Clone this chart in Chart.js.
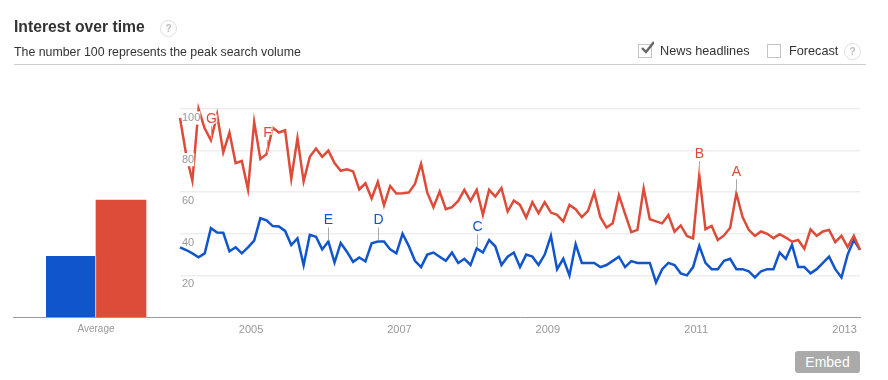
<!DOCTYPE html>
<html>
<head>
<meta charset="utf-8">
<title>Interest over time</title>
<script src="https://cdn.jsdelivr.net/npm/chart.js"></script>
<style>
  html, body { margin: 0; padding: 0; background: #fff; }
  #page { position: relative; width: 888px; height: 380px; overflow: hidden; font-family: "Liberation Sans", Arial, sans-serif; color: #333; }
  #page > * { position: absolute; }
  canvas { position: absolute; top: 0; }
  #title { left: 14px; top: 17px; font-size: 15.7px; font-weight: bold; line-height: 20px; }
  #sub { left: 14px; top: 44px; font-size: 12.35px; line-height: 16px; }
  #rule { left: 14px; top: 64px; width: 852px; height: 1px; background: #ccc; }
  .help { width: 15px; height: 15px; border: 1px solid #ddd; border-radius: 50%; font-size: 10px; font-weight: bold; line-height: 15px; text-align: center; color: #bbb; box-sizing: content-box; }
  .box { width: 12px; height: 12px; border: 1px solid #c4c4c4; top: 44px; }
  .lbl { top: 43px; font-size: 12.7px; line-height: 16px; }
  #tick { left: 640px; top: 41px; width: 14px; height: 14px; }
  #embed { left: 795px; top: 351px; width: 65px; height: 22px; background: #aaa; border-radius: 3px; color: #fff; font-size: 14px; line-height: 22px; text-align: center; }
</style>
</head>
<body>
<div id="page">
  <canvas id="avg" width="167" height="380" style="left:13px"></canvas>
  <canvas id="trend" width="888" height="380" style="left:0"></canvas>
  <div id="title">Interest over time</div>
  <div class="help" style="left:160px;top:20px">?</div>
  <div id="sub">The number 100 represents the peak search volume</div>
  <div id="rule"></div>
  <div class="box" style="left:638px"></div>
  <svg id="tick" viewBox="0 0 14 14"><path d="M2 7 L6 11 L14 1" fill="none" stroke="#666" stroke-width="2.4"/></svg>
  <div class="lbl" style="left:660px">News headlines</div>
  <div class="box" style="left:767px"></div>
  <div class="lbl" style="left:789px">Forecast</div>
  <div class="help" style="left:844px;top:43px">?</div>
  <div id="embed">Embed</div>
</div>
<script>
// monthly values, Jan 2004 .. Mar 2013
const redValues = [
  95.7, 78, 65.5, 100, 90.6, 85, 97.3, 79.2, 88.7, 74, 75, 61.3,
  93.8, 76, 78.3, 91, 88.7, 89.8, 66.5, 85.9, 65.2, 77, 81, 77,
  80, 74, 70.3, 71, 70, 61.3, 64.3, 57, 65, 53.7, 63, 59.4,
  59.5, 59.8, 64, 73.6, 59.8, 52.8, 60.3, 51.8, 52.8, 55.8, 61.1, 55.8,
  61.1, 49.1, 61.1, 57.9, 62, 50.7, 56, 53.9, 47.8, 55.2, 49.9, 55.2,
  50.2, 49.1, 45.9, 53.9, 51.8, 48, 51, 59.8, 48, 43, 45.1, 58.6,
  49.6, 40.8, 41.9, 61.8, 47, 46, 45, 49, 41, 44, 39, 37.8,
  68.3, 42.2, 43.8, 37, 39.2, 42.9, 59.5, 48, 41.9, 39, 41.1, 40,
  37.9, 39.8, 38.2, 36.2, 37, 32.8, 42.1, 39, 41.1, 41.9, 36, 39,
  33.6, 39, 32.3
];
const blueValues = [
  33.5, 32.2, 30.6, 28.7, 30.6, 42.7, 40.6, 40.5, 31.6, 33.5, 30.6, 33.5,
  36.7, 47.5, 46.5, 43.7, 43.5, 41.4, 34.6, 37.8, 24.9, 39.5, 38.6, 32.5,
  36.3, 26.2, 35.6, 31.4, 26.5, 28.6, 26.7, 35.4, 36.3, 36.3, 32.5, 30.6,
  40, 34.2, 27, 24, 30, 31, 29, 27, 31, 26, 28, 25,
  33, 31, 37, 34, 25, 29, 31, 24, 30, 29, 25, 30,
  39, 23, 28, 20, 35, 26, 26, 26, 24, 25, 27, 29,
  24, 26.9, 26, 26, 26, 16.6, 23, 26, 25, 21, 20, 24,
  34.2, 26, 23, 23, 27, 28, 23, 23, 22, 19, 22, 23,
  23, 31, 28, 34.7, 24, 24, 21, 23, 26, 29, 23, 19,
  30, 37, 32.3
];
const averages = [29.3, 56.2];
const avgLabels = ["Average"];
const yTicks = [20, 40, 60, 80, 100];
const yearLabels = ["2005", "2007", "2009", "2011", "2013"];
const yearPositions = [11.5, 35.5, 59.5, 83.5, 107.5];
const newsLetters = ["A", "B", "C", "D", "E", "F", "G"];
const newsMonths = [90, 84, 48, 32, 24, 14, 5];
const newsSeries = ["red", "red", "blue", "blue", "blue", "red", "red"];

const RED = "#dd4b39", BLUE = "#1155cc", AXIS = "#999";
const FONT = "'Liberation Sans', Arial, sans-serif";
Chart.defaults.font.family = FONT;

const points = vals => vals.map((v, i) => ({ x: i, y: v }));

// news flags: gray stem up from the line, letter on top
const newsFlags = {
  id: "newsFlags",
  afterDatasetsDraw(chart) {
    const { ctx, scales } = chart;
    ctx.save();
    ctx.font = "14px " + FONT;
    ctx.textAlign = "center";
    ctx.textBaseline = "middle";
    newsLetters.forEach((letter, k) => {
      const isRed = newsSeries[k] === "red";
      const v = (isRed ? redValues : blueValues)[newsMonths[k]];
      const x = Math.round(scales.x.getPixelForValue(newsMonths[k])) + 0.5, y = scales.y.getPixelForValue(v);
      ctx.strokeStyle = "#aaa";
      ctx.lineWidth = 1;
      ctx.beginPath();
      ctx.moveTo(x, y - 1);
      ctx.lineTo(x, y - 14);
      ctx.stroke();
      ctx.lineWidth = 3;
      ctx.strokeStyle = "rgba(255,255,255,.8)";
      ctx.strokeText(letter, x, y - 21);
      ctx.fillStyle = isRed ? RED : BLUE;
      ctx.fillText(letter, x, y - 21);
    });
    ctx.restore();
  },
};

new Chart(document.getElementById("trend"), {
  type: "line",
  data: {
    datasets: [
      { data: points(redValues), borderColor: RED, borderWidth: 2.5, pointRadius: 0, tension: 0, clip: false },
      { data: points(blueValues), borderColor: BLUE, borderWidth: 2.5, pointRadius: 0, tension: 0, clip: false },
    ],
  },
  plugins: [newsFlags],
  options: {
    responsive: false, animation: false,
    layout: { padding: { left: 180, right: 28, top: 109, bottom: 0 } },
    plugins: { legend: { display: false }, tooltip: { enabled: false } },
    scales: {
      x: {
        type: "linear", min: 0, max: 110,
        afterBuildTicks: s => { s.ticks = yearPositions.map(v => ({ value: v })); },
        afterFit: s => { s.height = 63; },
        grid: { display: false, drawTicks: false },
        border: { color: AXIS },
        ticks: {
          autoSkip: false, maxRotation: 0, padding: 6, color: AXIS, font: { size: 11 },
          callback: v => yearLabels[yearPositions.indexOf(v)],
        },
      },
      y: {
        min: 0, max: 100,
        afterBuildTicks: s => { s.ticks = yTicks.map(v => ({ value: v })); },
        afterFit: s => { s.width = 0; },
        grid: { color: "#eee", lineWidth: 1.5, drawTicks: false },
        border: { display: false },
        ticks: {
          mirror: true, padding: 2, labelOffset: 9, z: 1, color: AXIS, font: { size: 11 },
          // only the two top labels sit on the red line
          showLabelBackdrop: true, backdropPadding: 0,
          backdropColor: c => c.tick.value >= 80 ? "#fff" : "transparent",
        },
      },
    },
  },
});

new Chart(document.getElementById("avg"), {
  type: "bar",
  data: {
    labels: avgLabels,
    datasets: [
      { data: [averages[0]], backgroundColor: BLUE, borderColor: "#fff", borderWidth: { right: 1 }, barThickness: 50 },
      { data: [averages[1]], backgroundColor: RED, barThickness: 50 },
    ],
  },
  options: {
    responsive: false, animation: false,
    layout: { padding: { top: 109, right: 1 } },
    plugins: { legend: { display: false }, tooltip: { enabled: false } },
    scales: {
      x: {
        afterFit: s => { s.height = 63; },
        grid: { display: false, drawTicks: false },
        border: { color: AXIS },
        ticks: { padding: 6, color: AXIS, font: { size: 10 } },
      },
      y: { min: 0, max: 100, display: false },
    },
  },
});
</script>
</body>
</html>
